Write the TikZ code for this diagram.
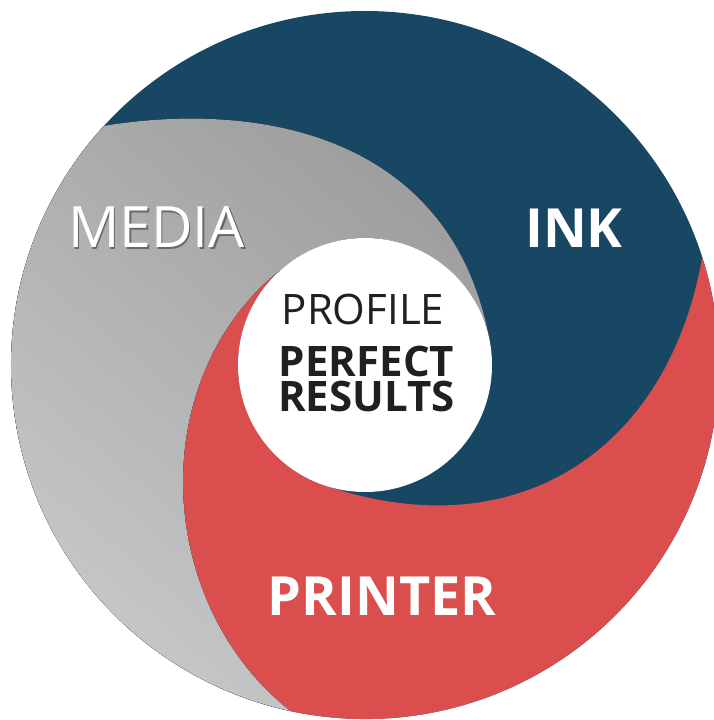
\documentclass[tikz,border=0pt]{standalone}
\usepackage{fontspec}
\setmainfont{Open Sans}
\usetikzlibrary{positioning}
\definecolor{inkblue}{RGB}{24,71,100}
\definecolor{printerred}{RGB}{218,79,78}
\definecolor{medialight}{RGB}{200,201,203}
\definecolor{mediadark}{RGB}{158,158,158}
\definecolor{textblack}{RGB}{35,31,32}
\definecolor{shadowgray}{RGB}{105,105,108}

\begin{document}
\begin{tikzpicture}[x=1pt, y=1pt,
	bigword/.style={text=white, font=\fontsize{54}{54}\selectfont\bfseries, anchor=base, inner sep=0pt},
	mediaword/.style={font=\fontsize{57}{57}\selectfont, anchor=base, inner sep=0pt},
	coreword/.style={text=textblack, inner sep=0pt}]

		\useasboundingbox (-365,-355) rectangle (348,365);

		%the ink part, painted as the whole disc first
		\fill[inkblue] (0,0) circle[radius=354];

		%the printer part
		\fill[printerred] (-102.2:354) arc[start angle=-102.2, end angle=17.7, radius=354]
			.. controls (302.2,-89.4) and (147.9,-185.3) .. (251:127)
			arc[start angle=251, end angle=125, radius=127]
			.. controls (-220.2,0.7) and (-216.1,-234.4) .. cycle;

		%the media part
		\fill[top color=mediadark, bottom color=medialight, shading angle=-40]
			(137.5:354) arc[start angle=137.5, end angle=257.8, radius=354]
			.. controls (-216.1,-234.4) and (-220.2,0.7) .. (125:127)
			arc[start angle=125, end angle=10, radius=127]
			.. controls (88.6,228.9) and (-103.1,264.8) .. cycle;

		% the white centre and its words
		\node[circle, fill=white, minimum size=254pt, inner sep=0pt] (core) at (0,0) {};
		\node[coreword, anchor=base, font=\fontsize{42}{42}\selectfont] (profile) at (-2,40) {PROFILE};
		\node[coreword, anchor=north, align=center, font=\fontsize{42}{35}\selectfont\bfseries] (perfect) at (1.5,19) {PERFECT\\RESULTS};

		% the three parts
		\node[mediaword, text=shadowgray] (mediashadow) at (-207,115.5) {MEDIA};
		\node[mediaword, text=white] (media) at (-208.5,117) {MEDIA};
		\node[bigword] (ink) at (209,117) {INK};
		\node[bigword] (printer) at (17,-250) {PRINTER};

	\end{tikzpicture}
\end{document}
